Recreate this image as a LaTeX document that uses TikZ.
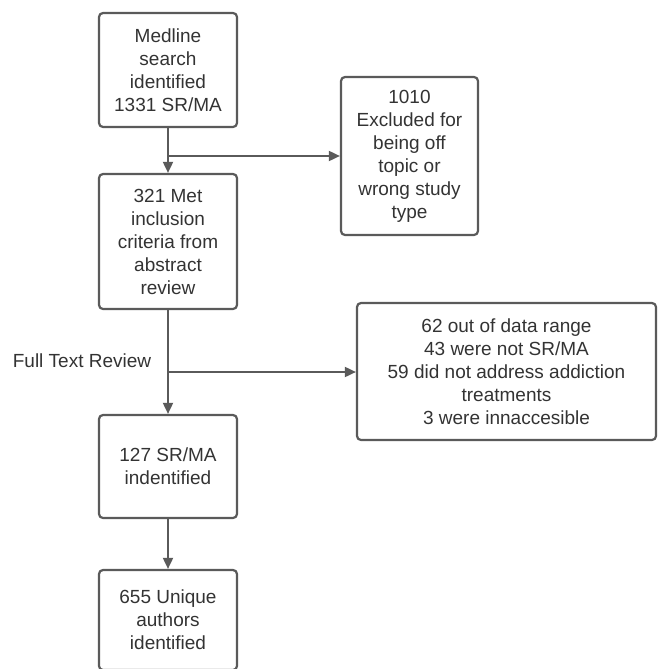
\documentclass[tikz,border=0pt]{standalone}
\usepackage{fontspec}
\setmainfont{Liberation Sans}
\usetikzlibrary{arrows.meta,positioning}
\definecolor{linegray}{HTML}{5A5A5A}
\definecolor{textgray}{HTML}{333333}

\begin{document}
\begin{tikzpicture}[x=1pt, y=-1pt,
    box/.style={draw=linegray, line width=2.2pt, rounded corners=4pt, align=center,
                inner sep=0pt, text=textgray, minimum width=138pt,
                font=\fontsize{19}{23}\selectfont},
    flow/.style={draw=linegray, line width=1.8pt, -{Triangle[length=11pt,width=10pt]}}]
          \useasboundingbox (0,0) rectangle (659,669);

          \node[box, minimum height=114pt] (b1) at (168,70)    {Medline\\search\\identified\\1331 SR/MA};
          \node[box, minimum height=135pt] (b2) at (168,241.5) {321 Met\\inclusion\\criteria from\\abstract\\review};
          \node[box, minimum height=103pt] (b5) at (168,466.5) {127 SR/MA\\indentified};
          \node[box, minimum height=100pt] (b6) at (168,620)   {655 Unique\\authors\\identified};
          \node[box, minimum width=137pt, minimum height=158pt] (b3) at (409.5,156)
                    {1010\\Excluded for\\being off\\topic or\\wrong study\\type};
          \node[box, minimum width=299pt, minimum height=137pt] (b4) at (506.5,371.5)
                    {62 out of data range\\43 were not SR/MA\\59 did not address addiction\\treatments\\3 were innaccesible};
          \node[text=textgray, font=\fontsize{19}{23}\selectfont] (ftr) at (82,361) {Full Text Review};

          \coordinate (j1) at (168,156);
          \coordinate (j2) at (168,372);

          \draw[flow] (b1.south) -- (b2.north);
          \draw[flow] (b2.south) -- (b5.north);
          \draw[flow] (b5.south) -- (b6.north);
          \draw[flow] (j1) -- (b3.west |- j1);
          \draw[flow] (j2) -- (b4.west |- j2);
\end{tikzpicture}
\end{document}
